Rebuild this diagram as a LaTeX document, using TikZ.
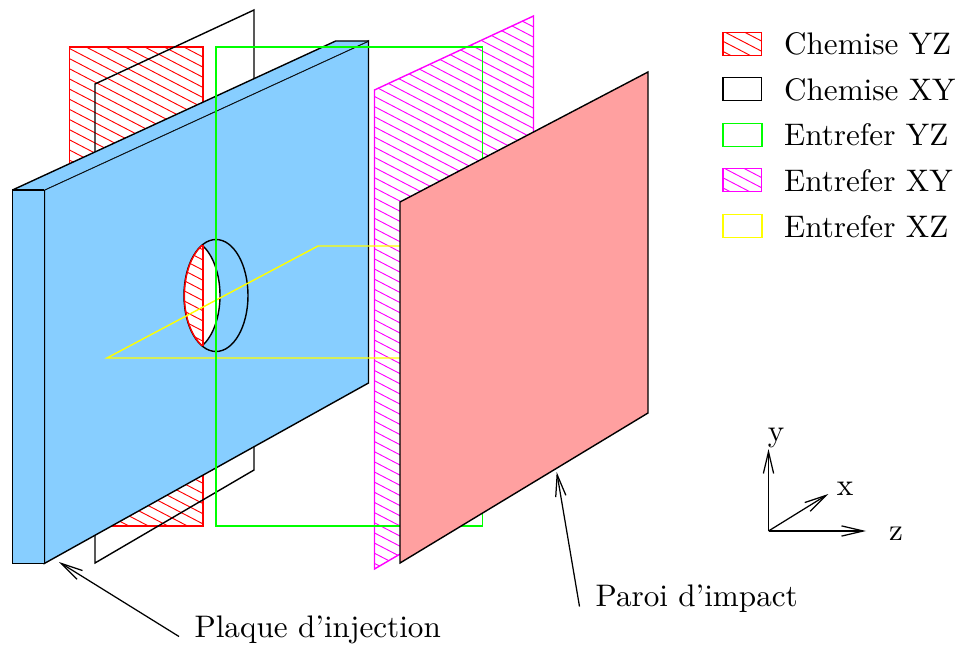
\documentclass[tikz,border=0pt]{standalone}
\usetikzlibrary{arrows.meta}
\definecolor{plaque}{RGB}{135,206,255}
\definecolor{paroi}{RGB}{255,160,160}
\definecolor{cred}{RGB}{255,0,0}
\definecolor{cgreen}{RGB}{0,255,0}
\definecolor{cmag}{RGB}{255,0,255}
\definecolor{cyel}{RGB}{255,255,0}
\tikzset{
  x=0.321pt,y=-0.321pt,
  sheet/.style={line width=0.45pt,line join=miter},
  hatchline/.style={line width=0.3pt},
  thinedge/.style={line width=0.15pt},
  pointer/.style={line width=0.4pt,-{Straight Barb[length=7pt,width=3.3pt,line width=0.4pt]}},
  lab/.style={inner sep=0pt,anchor=base west},
  axlab/.style={inner sep=0pt},
}
\newcommand{\hatchlines}[5]{% colour, x0, y0 phase, x1, count
  \foreach \k in {-#5,...,#5}{
    \pgfmathsetmacro{\ya}{#3+10.15*\k}
    \pgfmathsetmacro{\yb}{#3+10.15*\k+0.52*(#4-#2)}
    \draw[#1,hatchline] (#2,\ya) -- (#4,\yb);
  }}
\begin{document}
\begin{tikzpicture}
\useasboundingbox (0,0) rectangle (956,646);
% Chemise YZ
\begin{scope}
  \clip (69.5,47) rectangle (203,525.9);
  \hatchlines{cred}{69.5}{48.5}{203}{60}
\end{scope}
\draw[cred,sheet] (69.5,47) rectangle (203,525.9);
% Chemise XY
\draw[black,sheet] (95,84) -- (254,10) -- (254,470) -- (95,563) -- cycle;
% Entrefer XY
\begin{scope}
  \clip (374.5,90) -- (533.5,16) -- (533.5,476) -- (374.5,569) -- cycle;
  \hatchlines{cmag}{374.5}{96.5}{533.5}{60}
\end{scope}
\draw[cmag,sheet] (374.5,90) -- (533.5,16) -- (533.5,476) -- (374.5,569) -- cycle;
% Plaque d'injection, with its hole
\draw[sheet,fill=plaque] (44.3,190) -- (368.5,41) -- (368.5,383) -- (44.3,563.5) -- cycle;
\draw[sheet,fill=plaque] (12.5,190) -- (44.3,190) -- (44.3,563.5) -- (12.5,563.5) -- cycle;
\fill[plaque] (12.5,190) -- (335.7,41) -- (368.5,41) -- (44.3,190) -- cycle;
\draw[sheet] (12.5,190) -- (335.7,41) -- (368.5,41);
\draw[thinedge] (44.3,190) -- (368.5,41);
\draw[sheet] (12.5,190) -- (44.3,190);
\begin{scope}
  \clip (216,295.5) ellipse [x radius=32,y radius=56];
  \clip (188,295.5) ellipse [x radius=32,y radius=56];
  \fill[white] (180,235) rectangle (225,355);
  \begin{scope}
    \clip (180,235) rectangle (203,355);
    \hatchlines{cred}{69.5}{48.5}{203}{60}
  \end{scope}
\end{scope}
\draw[black,sheet] (216,295.5) ellipse [x radius=32,y radius=56];
\draw[black,sheet] plot[domain=-64.1:64.1,samples=40] ({188+32*cos(\x)},{295.5+56*sin(\x)});
\draw[cred,sheet] plot[domain=115.9:244.1,samples=40] ({216.4+32*cos(\x)},{295.5+56*sin(\x)});
\draw[cred,sheet] (203,245) -- (203,346);
% Entrefer XZ
\draw[cyel,sheet] (400,358) -- (107,358) -- (318,246) -- (400,246);
% Entrefer YZ
\draw[cgreen,sheet] (216,47) rectangle (482.5,525.9);
% Paroi d'impact
\draw[sheet,fill=paroi] (400,202) -- (648,72) -- (648,413) -- (400,563) -- cycle;
% Legend
\begin{scope}
  \clip (723,32.3) rectangle (761.5,55.3);
  \hatchlines{cred}{723}{21}{761.5}{4}
\end{scope}
\draw[cred,sheet] (723,32.3) rectangle (761.5,55.3);
\draw[black,sheet] (723,77.8) rectangle (761.5,100.8);
\draw[cgreen,sheet] (723,123.7) rectangle (761.9,146.7);
\begin{scope}
  \clip (723,168.8) rectangle (761.5,191.8);
  \hatchlines{cmag}{723}{157.5}{761.5}{4}
\end{scope}
\draw[cmag,sheet] (723,168.8) rectangle (761.5,191.8);
\draw[cyel,sheet] (723,214.7) rectangle (761.9,237.7);
\node[lab] (l1) at (783.5,55) {Chemise YZ};
\node[lab] (l2) at (783.5,100.5) {Chemise XY};
\node[lab] (l3) at (783.5,146) {Entrefer YZ};
\node[lab] (l4) at (783.5,191.5) {Entrefer XY};
\node[lab] (l5) at (783.5,237) {Entrefer XZ};
% Pointers
\node[lab] (plq) at (194,637) {Plaque d’injection};
\node[lab] (par) at (595,606) {Paroi d’impact};
\coordinate (plqs) at (179,636.5);
\coordinate (plqe) at (59,562);
\coordinate (pars) at (579.5,606.5);
\coordinate (pare) at (556.7,472);
\draw[pointer] (plqs) -- (plqe);
\draw[pointer] (pars) -- (pare);
% Axes
\coordinate (o) at (768.5,531);
\coordinate (ay) at (768.5,449);
\coordinate (ax) at (828.3,494);
\coordinate (az) at (866,531);
\draw[pointer] (o) -- (ay);
\draw[pointer] (o) -- (ax);
\draw[pointer] (o) -- (az);
\node[axlab] (ly) at (776,438) {y};
\node[axlab] (lx) at (845,489) {x};
\node[axlab] (lz) at (896,534) {z};
\end{tikzpicture}
\end{document}
